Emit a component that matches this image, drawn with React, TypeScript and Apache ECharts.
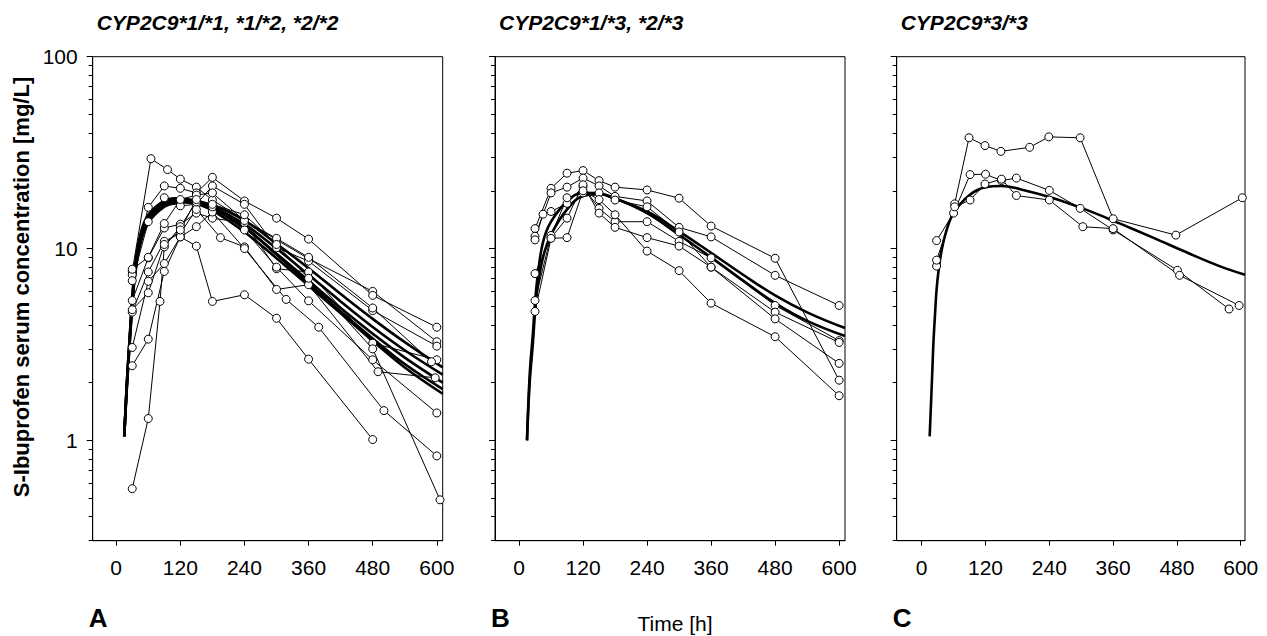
import React, { useEffect, useRef } from "react";
import * as echarts from "echarts";

type Pt = [number, number];

// ---- tick values ----
const xTickValues = [0, 120, 240, 360, 480, 600];
const yMajorTicks = [1, 10, 100];
const yMinorTicks = [0.3, 0.4, 0.5, 0.6, 0.7, 0.8, 0.9, 2, 3, 4, 5, 6, 7, 8, 9, 20, 30, 40, 50, 60, 70, 80, 90];

const panelTitles = ["CYP2C9*1/*1, *1/*2, *2/*2", "CYP2C9*1/*3, *2/*3", "CYP2C9*3/*3"];
const panelLetters = ["A", "B", "C"];
const xAxisTitle = "Time [h]";
const yAxisTitle = "S-Ibuprofen serum concentration [mg/L]";

// ---- panel A: observed subjects ----
const subjA1: Pt[] = [[30, 7.6], [65, 29.4], [96, 25.8], [120, 23.0], [150, 20.9], [180, 17.9], [240, 14.1], [300, 11.1], [360, 8.86], [480, 5.98], [600, 3.27]];
const subjA2: Pt[] = [[30, 7.3], [60, 16.4], [90, 21.2], [120, 20.6], [150, 19.5], [180, 23.5], [240, 17.7], [300, 14.4], [360, 11.2], [480, 5.7], [600, 3.89]];
const subjA3: Pt[] = [[30, 6.8], [60, 13.8], [90, 18.4], [120, 16.7], [150, 17.0], [180, 21.2], [240, 17.0], [300, 10.1], [360, 8.6], [480, 4.75], [600, 3.1]];
const subjA4: Pt[] = [[30, 5.36], [60, 8.94], [90, 12.8], [120, 13.4], [150, 15.3], [180, 14.4], [240, 13.6], [300, 7.85], [360, 7.55], [480, 3.21], [600, 2.63]];
const subjA5: Pt[] = [[30, 4.66], [60, 7.55], [90, 10.9], [120, 12.0], [150, 16.0], [195, 11.4], [240, 10.2], [300, 6.12], [360, 6.48], [490, 2.28], [597, 2.12]];
const subjA6: Pt[] = [[30, 3.05], [60, 6.75], [90, 8.35], [120, 11.5], [150, 10.3], [180, 5.3], [240, 5.74], [300, 4.33], [360, 2.65], [480, 1.01]];
const subjA7: Pt[] = [[30, 2.45], [60, 3.37], [90, 7.6], [120, 11.5], [150, 13.0], [180, 15.5], [240, 10.0], [318, 5.43], [379, 3.89], [501, 1.43], [600, 0.83]];
const subjA8: Pt[] = [[30, 0.56], [60, 1.3], [82, 5.3], [90, 10.2], [120, 13.0], [150, 17.5], [180, 16.5], [240, 12.5], [300, 8.0], [360, 5.34], [480, 2.63], [600, 1.39]];
const subjA9: Pt[] = [[30, 7.8], [60, 9.0], [90, 13.5], [120, 18.0], [150, 19.0], [180, 19.5], [240, 14.0], [300, 11.3], [360, 9.0], [480, 4.9], [590, 2.57]];
const subjA10: Pt[] = [[30, 4.8], [60, 5.88], [90, 10.5], [120, 12.5], [150, 18.0], [180, 17.0], [240, 15.0], [300, 10.5], [360, 7.0], [480, 3.0], [606, 0.49]];

// ---- panel A: model curves ----
const fitA1: Pt[] = [[15, 1.05], [20, 2.0], [25, 3.3], [30, 5.3], [35, 7.6], [45, 11.2], [60, 14.3], [90, 17.2], [110, 17.9], [130, 17.8], [150, 17.3], [180, 16.2], [240, 12.8], [300, 9.4], [360, 6.8], [420, 4.9], [480, 3.6], [540, 2.7], [611, 2.0]];
const fitA2: Pt[] = [[15, 1.05], [20, 2.0], [25, 3.4], [30, 5.5], [35, 8.0], [45, 11.8], [60, 15.0], [90, 17.8], [110, 18.3], [130, 18.0], [150, 17.2], [180, 15.8], [240, 12.2], [300, 8.9], [360, 6.4], [420, 4.6], [480, 3.3], [540, 2.4], [611, 1.75]];
const fitA3: Pt[] = [[15, 1.05], [20, 1.9], [25, 3.2], [30, 5.1], [35, 7.3], [45, 10.8], [60, 13.9], [90, 16.8], [110, 17.5], [130, 17.6], [150, 17.3], [180, 16.5], [240, 13.4], [300, 10.0], [360, 7.3], [420, 5.3], [480, 3.9], [540, 2.95], [611, 2.2]];
const fitA4: Pt[] = [[15, 1.05], [20, 2.0], [25, 3.3], [30, 5.4], [35, 7.8], [45, 11.5], [60, 14.7], [90, 17.5], [110, 18.1], [130, 18.1], [150, 17.7], [180, 16.6], [240, 13.0], [300, 9.3], [360, 6.6], [420, 4.7], [480, 3.4], [540, 2.5], [611, 1.85]];
const fitA5: Pt[] = [[15, 1.05], [20, 1.9], [25, 3.1], [30, 5.0], [35, 7.1], [45, 10.5], [60, 13.6], [90, 16.5], [110, 17.2], [130, 17.4], [150, 17.2], [180, 16.8], [240, 14.0], [300, 10.6], [360, 7.9], [420, 5.8], [480, 4.3], [540, 3.25], [611, 2.4]];

// ---- panel B ----
const subjB1: Pt[] = [[30, 12.7], [60, 20.6], [90, 24.7], [120, 25.5], [150, 22.6], [180, 20.9], [240, 20.2], [300, 18.3], [360, 13.1], [480, 8.9], [600, 2.06]];
const subjB2: Pt[] = [[30, 11.6], [60, 19.5], [90, 20.9], [120, 23.3], [150, 21.2], [180, 18.7], [240, 17.7], [300, 12.9], [360, 11.5], [480, 7.25], [600, 5.05]];
const subjB3: Pt[] = [[30, 11.1], [45, 15.1], [60, 15.6], [90, 17.2], [120, 21.0], [150, 16.2], [180, 13.8], [240, 13.8], [300, 10.9], [360, 8.94], [480, 5.05], [600, 3.31]];
const subjB4: Pt[] = [[30, 7.4], [60, 11.4], [90, 14.4], [120, 21.5], [150, 15.3], [180, 12.9], [240, 11.4], [300, 10.3], [360, 8.0], [480, 4.66], [600, 3.24]];
const subjB5: Pt[] = [[30, 5.36], [60, 11.7], [90, 18.4], [120, 19.5], [150, 19.5], [180, 17.9], [240, 16.5], [300, 12.2], [360, 8.0], [480, 4.3], [600, 2.52]];
const subjB6: Pt[] = [[30, 4.7], [60, 11.3], [90, 11.4], [120, 20.0], [150, 18.0], [180, 15.0], [240, 9.7], [300, 7.67], [360, 5.19], [480, 3.47], [600, 1.71]];

const fitB1: Pt[] = [[15, 1.0], [20, 2.2], [26, 3.6], [30, 5.2], [35, 7.2], [45, 10.8], [60, 13.8], [90, 17.6], [120, 19.5], [150, 19.4], [180, 18.2], [240, 15.6], [300, 12.3], [360, 9.5], [420, 7.3], [480, 5.7], [540, 4.65], [611, 3.85]];
const fitB2: Pt[] = [[15, 1.0], [20, 2.0], [26, 3.2], [30, 4.6], [35, 6.3], [45, 9.0], [60, 11.8], [90, 16.0], [120, 18.8], [150, 19.2], [180, 18.3], [240, 15.3], [300, 11.8], [360, 9.0], [420, 6.8], [480, 5.2], [540, 4.2], [611, 3.5]];

// ---- panel C ----
const subjC1: Pt[] = [[28, 8.1], [62, 17.1], [89, 37.8], [119, 34.4], [149, 32.1], [203, 33.7], [239, 38.2], [298, 37.8], [360, 14.3], [478, 11.75], [603, 18.4]];
const subjC2: Pt[] = [[28, 11.0], [60, 15.3], [91, 24.3], [120, 24.4], [150, 22.6], [178, 23.3], [240, 20.1], [298, 16.2], [360, 12.5], [481, 7.7], [578, 4.84]];
const subjC3: Pt[] = [[28, 8.7], [62, 16.5], [91, 17.9], [119, 21.7], [150, 23.0], [178, 18.9], [240, 17.9], [303, 13.0], [360, 12.7], [485, 7.25], [597, 5.05]];

const fitC1: Pt[] = [[15, 1.05], [20, 2.3], [22, 3.2], [25, 4.5], [28, 6.1], [32, 7.8], [37, 9.6], [45, 12.0], [60, 15.3], [90, 19.0], [120, 20.9], [150, 21.2], [185, 20.4], [245, 18.4], [310, 15.9], [370, 13.6], [435, 11.4], [500, 9.5], [560, 8.1], [608, 7.3]];

const panelSubjects: Pt[][][] = [
  [subjA1, subjA2, subjA3, subjA4, subjA5, subjA6, subjA7, subjA8, subjA9, subjA10],
  [subjB1, subjB2, subjB3, subjB4, subjB5, subjB6],
  [subjC1, subjC2, subjC3],
];
const panelFits: Pt[][][] = [
  [fitA1, fitA2, fitA3, fitA4, fitA5],
  [fitB1, fitB2],
  [fitC1],
];

// ---- layout ----
const gridsPx = [
  { left: 92.7, width: 350, xmin: -44, xmax: 611 },
  { left: 495, width: 350, xmin: -45, xmax: 611 },
  { left: 896.7, width: 348.3, xmin: -47, xmax: 608 },
];
const gridTop = 56.7;
const gridHeight = 484;
const FONT = "'Liberation Sans', Arial, Helvetica, sans-serif";

export default function App() {
  const ref = useRef<HTMLDivElement>(null);

  useEffect(() => {
    if (!ref.current) return;
    const chart = echarts.init(ref.current, undefined, { renderer: "svg" });

    const grid = gridsPx.map((g) => ({
      left: g.left,
      top: gridTop,
      width: g.width,
      height: gridHeight,
      show: true,
      borderColor: "#000",
      borderWidth: 1,
      backgroundColor: "transparent",
      containLabel: false,
    }));

    const xAxis = gridsPx.map((g, i) => ({
      type: "value",
      gridIndex: i,
      position: "bottom",
      min: g.xmin,
      max: g.xmax,
      axisLine: { show: true, onZero: false, lineStyle: { color: "#000", width: 1 } },
      axisTick: { show: true, length: 5, customValues: xTickValues, lineStyle: { color: "#000", width: 1 } },
      axisLabel: {
        show: true,
        customValues: xTickValues,
        fontSize: 21,
        fontFamily: FONT,
        color: "#000",
        margin: 16,
      },
      splitLine: { show: false },
    }));

    const yAxis: any[] = [];
    gridsPx.forEach((_, i) => {
      yAxis.push({
        type: "log",
        logBase: 10,
        gridIndex: i,
        position: "left",
        min: 0.3,
        max: 100,
        axisLine: { show: true, onZero: false, lineStyle: { color: "#000", width: 1 } },
        axisTick: { show: true, length: 6, customValues: yMajorTicks, lineStyle: { color: "#000", width: 1 } },
        axisLabel: {
          show: i === 0,
          customValues: yMajorTicks,
          fontSize: 21,
          fontFamily: FONT,
          color: "#000",
          margin: 15,
          formatter: (v: number) => String(v),
        },
        splitLine: { show: false },
      });
      yAxis.push({
        type: "log",
        logBase: 10,
        gridIndex: i,
        position: "left",
        offset: 0,
        min: 0.3,
        max: 100,
        axisLine: { show: false, onZero: false },
        axisTick: { show: true, length: 4, customValues: yMinorTicks, lineStyle: { color: "#000", width: 1 } },
        axisLabel: { show: false },
        splitLine: { show: false },
      });
    });

    const series: any[] = [];
    panelFits.forEach((fits, i) => {
      fits.forEach((f) => {
        series.push({
          type: "line",
          xAxisIndex: i,
          yAxisIndex: 2 * i,
          data: f,
          smooth: 0.4,
          showSymbol: false,
          symbol: "none",
          lineStyle: { color: "#000", width: 2.6 },
          silent: true,
          z: 2,
        });
      });
    });
    panelSubjects.forEach((subs, i) => {
      subs.forEach((s) => {
        series.push({
          type: "line",
          xAxisIndex: i,
          yAxisIndex: 2 * i,
          data: s,
          symbol: "circle",
          symbolSize: 8,
          showSymbol: true,
          lineStyle: { color: "#000", width: 1 },
          itemStyle: { color: "#fff", borderColor: "#000", borderWidth: 1 },
          silent: true,
          z: 3,
        });
      });
    });

    const titleY = 22;
    const graphic: any[] = [];
    panelTitles.forEach((t, i) => {
      graphic.push({
        type: "text",
        x: gridsPx[i].left + 4,
        y: titleY,
        style: {
          text: t,
          font: `italic bold 21px ${FONT}`,
          fill: "#000",
          textAlign: "left",
          textVerticalAlign: "middle",
        },
      });
      graphic.push({
        type: "text",
        x: gridsPx[i].left - 4,
        y: 618,
        style: {
          text: panelLetters[i],
          font: `bold 26px ${FONT}`,
          fill: "#000",
          textAlign: "left",
          textVerticalAlign: "middle",
        },
      });
    });
    graphic.push({
      type: "text",
      x: 675,
      y: 623,
      style: {
        text: xAxisTitle,
        font: `21px ${FONT}`,
        fill: "#000",
        textAlign: "center",
        textVerticalAlign: "middle",
      },
    });
    graphic.push({
      type: "text",
      x: 21,
      y: 287,
      rotation: Math.PI / 2,
      style: {
        text: yAxisTitle,
        font: `bold 22px ${FONT}`,
        fill: "#000",
        textAlign: "center",
        textVerticalAlign: "middle",
      },
    });

    chart.setOption({
      animation: false,
      backgroundColor: "#fff",
      grid,
      xAxis,
      yAxis,
      series,
      graphic,
    });

    return () => {
      chart.dispose();
    };
  }, []);

  return (
    <div
      ref={ref}
      style={{ position: "fixed", left: 0, top: 0, width: 1267, height: 636 }}
    />
  );
}
